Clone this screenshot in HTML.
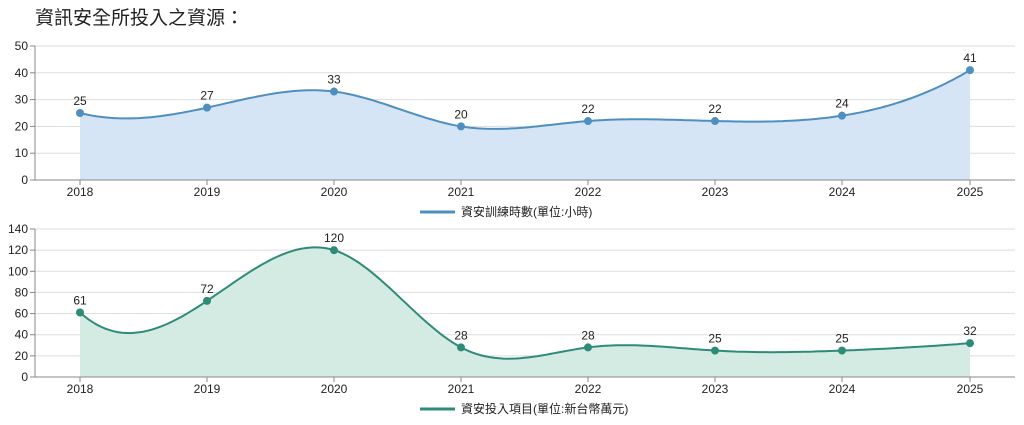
<!DOCTYPE html>
<html><head><meta charset="utf-8"><style>
body{margin:0;background:#fff;width:1024px;height:420px;overflow:hidden}
svg{font-family:"Liberation Sans","Noto Sans CJK TC",sans-serif}
</style></head><body>
<svg id="s" width="1024" height="420" xmlns="http://www.w3.org/2000/svg">
<text x="35" y="24" font-size="19" fill="#222">資訊安全所投入之資源：</text>
</svg>
<script>
const s=document.getElementById('s');const NS='http://www.w3.org/2000/svg';
function el(t,a,txt){const e=document.createElementNS(NS,t);for(const k in a)e.setAttribute(k,a[k]);if(txt!==undefined)e.textContent=txt;s.appendChild(e);return e;}
const xs=[80,207,334,461,588,715,842,970],yrs=[2018,2019,2020,2021,2022,2023,2024,2025];
function spline(px,py,f0,fn){const n=px.length,h=[];
for(let i=0;i<n-1;i++)h[i]=px[i+1]-px[i];
const A=[],B=[],C=[],D=[];
A[0]=0;B[0]=2*h[0];C[0]=h[0];D[0]=3*((py[1]-py[0])/h[0]-f0);
for(let i=1;i<n-1;i++){A[i]=h[i-1];B[i]=2*(h[i-1]+h[i]);C[i]=h[i];D[i]=3*((py[i+1]-py[i])/h[i]-(py[i]-py[i-1])/h[i-1]);}
A[n-1]=h[n-2];B[n-1]=2*h[n-2];C[n-1]=0;D[n-1]=3*(fn-(py[n-1]-py[n-2])/h[n-2]);
for(let i=1;i<n;i++){const m=A[i]/B[i-1];B[i]-=m*C[i-1];D[i]-=m*D[i-1];}
const c=[];c[n-1]=D[n-1]/B[n-1];for(let i=n-2;i>=0;i--)c[i]=(D[i]-C[i]*c[i+1])/B[i];
const b=[],d=[];
for(let j=0;j<n-1;j++){b[j]=(py[j+1]-py[j])/h[j]-h[j]*(c[j+1]+2*c[j])/3;d[j]=(c[j+1]-c[j])/(3*h[j]);}
let p='M'+px[0]+','+py[0];
for(let i=0;i<n-1;i++){for(let k=1;k<=30;k++){const t=h[i]*k/30;p+=' L'+(px[i]+t).toFixed(1)+','+(py[i]+b[i]*t+c[i]*t*t+d[i]*t*t*t).toFixed(1);}}
return p;}
function chart(o){
const {y0,top,max,step,vals,col,fill,label,ly,f0,fn}=o;const sc=(y0-top)/max;
for(let v=0;v<=max;v+=step){const y=y0-v*sc;
if(v>0)el('line',{x1:35,x2:1015,y1:y,y2:y,stroke:'#ddd','stroke-width':1});
el('line',{x1:30,x2:35,y1:y,y2:y,stroke:'#888'});
el('text',{x:28,y:y+4,'font-size':12,'text-anchor':'end',fill:'#222'},v);}
el('line',{x1:35,x2:35,y1:top,y2:y0,stroke:'#888'});
const ys=vals.map(v=>y0-v*sc);const p=spline(xs,ys,f0,fn);
el('path',{d:p+' L970,'+y0+' L80,'+y0+' Z',fill:fill});
el('line',{x1:35,x2:1015,y1:y0,y2:y0,stroke:'#888'});
el('path',{d:p,fill:'none',stroke:col,'stroke-width':2});
xs.forEach((x,i)=>{el('circle',{cx:x,cy:ys[i],r:4,fill:col});
el('text',{x:x,y:ys[i]-8,'font-size':12,'text-anchor':'middle',fill:'#222'},vals[i]);
el('line',{x1:x,x2:x,y1:y0,y2:y0+5,stroke:'#888'});
el('text',{x:x,y:y0+16,'font-size':12,'text-anchor':'middle',fill:'#222'},yrs[i]);});
el('line',{x1:420,x2:455,y1:ly,y2:ly,stroke:col,'stroke-width':3});
el('text',{x:461,y:ly+4,'font-size':12,fill:'#222'},label);}
chart({y0:180,top:46,max:50,step:10,vals:[25,27,33,20,22,22,24,41],col:'#4f8fc0',fill:'#d6e5f5',label:'資安訓練時數(單位:小時)',ly:212,f0:0.25,fn:-0.6});
chart({y0:377,top:229,max:140,step:20,vals:[61,72,120,28,28,25,25,32],col:'#2e8b78',fill:'#d4ebe3',label:'資安投入項目(單位:新台幣萬元)',ly:409,f0:0.9,fn:-0.08});
</script>
</body></html>
